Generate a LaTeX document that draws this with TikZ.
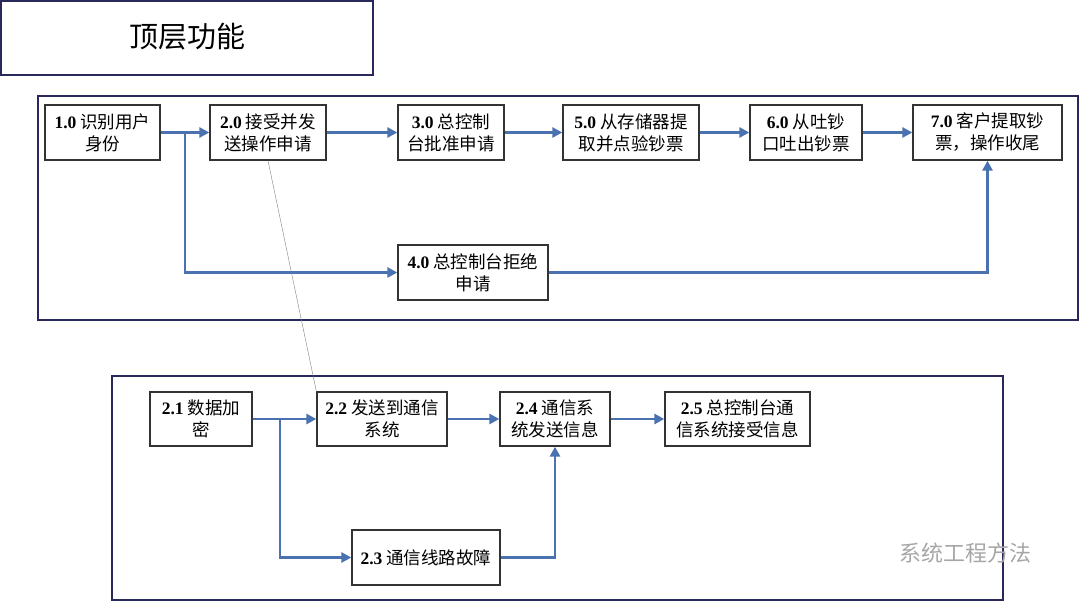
\documentclass[tikz,border=0pt]{standalone}
\usepackage{fontspec}
\setmainfont{Liberation Serif}
\newfontfamily\cjk{Noto Sans CJK SC}
\usetikzlibrary{arrows.meta}
\definecolor{arrc}{RGB}{74,114,176}
\definecolor{frc}{RGB}{40,40,90}
\newcommand{\nb}[1]{{\rmfamily\bfseries #1}}
\begin{document}
\begin{tikzpicture}[x=1pt,y=-1pt,
  box/.style={draw=black!80,line width=1.3pt,fill=white,align=center,font=\fontsize{17.5}{22}\selectfont\cjk,inner sep=0pt},
  frame/.style={draw=frc,line width=1.3pt},
  arr/.style={draw=arrc,line width=2.6pt,-{Triangle[length=10pt,width=10pt]}}]
\useasboundingbox (0,0) rectangle (1080,602);
\draw[frame] (1,1) rectangle (373,75);
\node[font=\fontsize{29}{32}\selectfont\cjk] (title) at (187,37) {顶层功能};
\draw[frame] (38,96) rectangle (1078,320);
\draw[frame] (112,376) rectangle (1003,600);
\newcommand{\bx}[6]{\node[box,minimum width=#4pt,minimum height=#5pt] (#1) at (#2,#3) {#6};}
\bx{n1}{102.5}{132.5}{115}{55}{\nb{1.0} 识别用户\\身份}
\bx{n2}{268}{132.5}{116}{55}{\nb{2.0} 接受并发\\送操作申请}
\bx{n3}{451}{132.5}{106}{55}{\nb{3.0} 总控制\\台批准申请}
\bx{n5}{631}{132.5}{136}{55}{\nb{5.0} 从存储器提\\取并点验钞票}
\bx{n6}{806}{132.5}{112}{55}{\nb{6.0} 从吐钞\\口吐出钞票}
\bx{n7}{987.5}{132.5}{149}{55}{\nb{7.0} 客户提取钞\\票，操作收尾}
\bx{n4}{473}{272.5}{150}{55}{\nb{4.0} 总控制台拒绝\\申请}
\bx{m1}{201}{419}{102}{54}{\nb{2.1} 数据加\\密}
\bx{m2}{382}{419}{130}{54}{\nb{2.2} 发送到通信\\系统}
\bx{m4}{555}{419}{110}{54}{\nb{2.4} 通信系\\统发送信息}
\bx{m5}{737.5}{419}{145}{54}{\nb{2.5} 总控制台通\\信系统接受信息}
\bx{m3}{426}{557.5}{148}{55}{\nb{2.3} 通信线路故障}
\coordinate (b1) at (185,131);
\coordinate (b2) at (280,419);
\draw[arr] (n1.east) -- (n2.west);
\draw[arr] (n2.east) -- (n3.west);
\draw[arr] (n3.east) -- (n5.west);
\draw[arr] (n5.east) -- (n6.west);
\draw[arr] (n6.east) -- (n7.west);
\draw[arr] (b1) |- (n4.west);
\draw[arr] (n4.east) -| (n7.south);
\draw[arr] (m1.east) -- (m2.west);
\draw[arr] (m2.east) -- (m4.west);
\draw[arr] (m4.east) -- (m5.west);
\draw[arr] (b2) |- (m3.west);
\draw[arr] (m3.east) -| (m4.south);
\draw[gray,line width=0.4pt] (n2.south) -- (m2.north west);
\node[text=black!35,font=\fontsize{22}{26}\selectfont\cjk] (wm) at (965,553) {系统工程方法};
\end{tikzpicture}
\end{document}
